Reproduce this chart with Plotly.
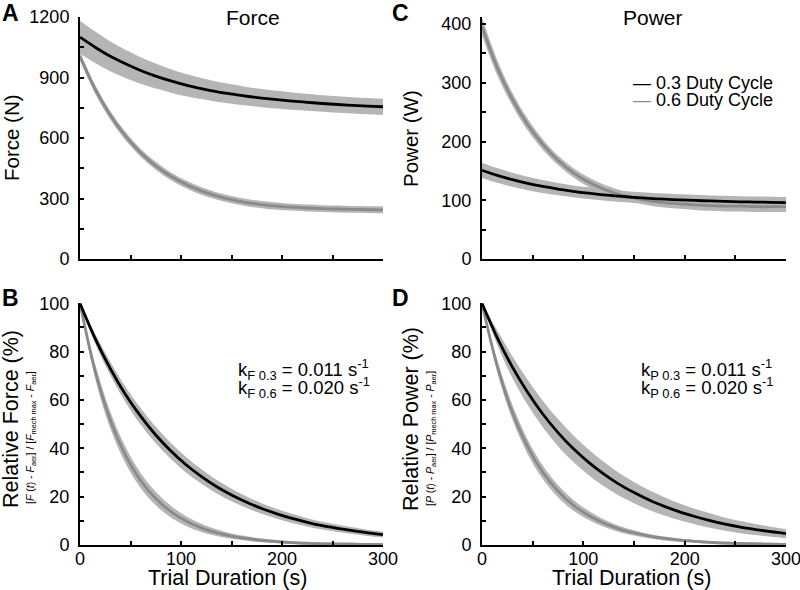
import plotly.graph_objects as go

# ---------------- data ----------------
t = [0, 15, 30, 45, 60, 75, 90, 105, 120, 135, 150, 165, 180, 195, 210, 225, 240, 255, 270, 285, 300]

force_03 = [1100, 1050, 1005, 968, 935, 907, 883, 862, 845, 830, 818, 807, 798, 790, 783, 777, 771, 766, 762, 758, 755]
force_03_sd = [82, 78, 74, 70, 66, 62, 58, 55, 52, 50, 48, 46, 45, 44, 43, 42, 41, 41, 40, 40, 40]
force_06 = [1005, 842, 713, 610, 527, 462, 410, 370, 338, 313, 294, 280, 270, 262, 257, 253, 250, 248, 246, 245, 244]
force_06_sd = [22, 22, 21, 21, 20, 20, 19, 19, 19, 18, 18, 18, 18, 18, 17, 17, 17, 17, 17, 17, 17]

power_03 = [151, 142.3, 135.0, 128.7, 123.5, 119.0, 115.2, 112.0, 109.2, 106.9, 104.9, 103.3, 101.9, 100.7, 99.7, 98.8, 98.1, 97.4, 96.9, 96.5, 96.1]
power_03_sd = [13, 12.5, 12, 11.5, 11, 10.5, 10, 10, 9.5, 9.5, 9.5, 9.5, 9.5, 9.5, 9.5, 9.5, 9.5, 9.5, 9.5, 9.5, 9.5]
power_06 = [396, 326, 272, 229, 195, 168, 147, 131, 119, 110, 104, 99, 96, 94, 92, 91, 90, 90, 89, 89, 89]
power_06_sd = [15, 13, 11, 10, 9, 8, 8, 8, 8, 8, 8, 8, 8.5, 8.5, 8.5, 9, 9, 9, 9, 9, 9]

relF_03 = [100, 85.4, 73.0, 62.3, 53.3, 45.5, 38.9, 33.2, 28.4, 24.2, 20.7, 17.7, 15.1, 12.9, 11.0, 9.4, 8.0, 6.9, 5.9, 5.0, 4.3]
relF_03_sd = [0, 2.0, 2.8, 3.2, 3.4, 3.4, 3.3, 3.2, 3.0, 2.8, 2.6, 2.4, 2.2, 2.0, 1.9, 1.7, 1.6, 1.5, 1.4, 1.3, 1.2]
relF_06 = [100, 71.9, 51.7, 37.2, 26.7, 19.2, 13.8, 9.9, 7.1, 5.1, 3.7, 2.7, 1.9, 1.4, 1.0, 0.7, 0.5, 0.4, 0.3, 0.2, 0.1]
relF_06_sd = [0, 3.0, 3.5, 3.4, 3.1, 2.8, 2.4, 2.0, 1.7, 1.4, 1.1, 0.9, 0.8, 0.7, 0.6, 0.6, 0.6, 0.6, 0.6, 0.6, 0.6]

relP_03 = [100, 85.8, 73.6, 63.2, 54.2, 46.5, 39.9, 34.3, 29.4, 25.2, 21.7, 18.6, 16.0, 13.7, 11.8, 10.1, 8.6, 7.4, 6.4, 5.5, 4.7]
relP_03_sd = [0, 3.0, 4.5, 5.2, 5.5, 5.6, 5.5, 5.3, 5.0, 4.7, 4.4, 4.1, 3.8, 3.5, 3.2, 3.0, 2.7, 2.5, 2.3, 2.1, 1.9]
relP_06 = [100, 74.1, 54.9, 40.7, 30.1, 22.3, 16.5, 12.3, 9.1, 6.7, 5.0, 3.7, 2.7, 2.0, 1.5, 1.1, 0.8, 0.6, 0.5, 0.3, 0.2]
relP_06_sd = [0, 2.5, 3.0, 3.0, 2.8, 2.5, 2.2, 1.9, 1.6, 1.3, 1.1, 0.9, 0.8, 0.7, 0.6, 0.6, 0.6, 0.6, 0.6, 0.6, 0.6]

x_ticks = [0, 100, 200, 300]
series_names = ["0.3 Duty Cycle", "0.6 Duty Cycle"]

# ---------------- styling ----------------
FONT = "Liberation Sans, Arial, sans-serif"
BLACK = "#000000"
GRAY_LINE = "#8a8a8a"
BAND = "#b5b5b5"

W, H = 800, 590
fig = go.Figure()


def add_band(xa, ya, mean, sd):
    lo = [m - s for m, s in zip(mean, sd)]
    hi = [m + s for m, s in zip(mean, sd)]
    fig.add_trace(go.Scatter(x=t, y=lo, mode="lines", line=dict(width=0, shape="spline", color=BAND),
                             xaxis=xa, yaxis=ya, showlegend=False, hoverinfo="skip"))
    fig.add_trace(go.Scatter(x=t, y=hi, mode="lines", line=dict(width=0, shape="spline", color=BAND),
                             fill="tonexty", fillcolor=BAND, xaxis=xa, yaxis=ya, showlegend=False,
                             hoverinfo="skip"))


def add_line(xa, ya, mean, color, name):
    fig.add_trace(go.Scatter(x=t, y=mean, mode="lines", line=dict(width=2.8, shape="spline", color=color),
                             xaxis=xa, yaxis=ya, name=name, showlegend=False))


panels = [
    ("x", "y", force_03, force_03_sd, force_06, force_06_sd),
    ("x2", "y2", power_03, power_03_sd, power_06, power_06_sd),
    ("x3", "y3", relF_03, relF_03_sd, relF_06, relF_06_sd),
    ("x4", "y4", relP_03, relP_03_sd, relP_06, relP_06_sd),
]
for xa, ya, m3, s3, m6, s6 in panels:
    add_band(xa, ya, m6, s6)
    add_band(xa, ya, m3, s3)
    add_line(xa, ya, m6, GRAY_LINE, series_names[1])
    add_line(xa, ya, m3, BLACK, series_names[0])


def px_x(p):
    return p / W


def px_y(p):
    return 1 - p / H


left_dom = [px_x(80), px_x(383)]
right_dom = [px_x(482), px_x(786)]
top_dom = [px_y(259), px_y(17)]
bot_dom = [px_y(545), px_y(303.3)]

axis_common = dict(showline=True, linecolor=BLACK, linewidth=2, ticks="inside", ticklen=4, tickwidth=2,
                   tickcolor=BLACK, showgrid=False, zeroline=False, automargin=False,
                   ticklabeloverflow="allow",
                   tickfont=dict(family=FONT, size=18, color=BLACK))


def xaxis(domain, anchor, labels):
    return dict(axis_common, domain=domain, anchor=anchor, range=[0, 300], tickvals=x_ticks,
                showticklabels=labels, ticklabelstandoff=-4,
                minor=dict(ticks="inside", ticklen=4, tickwidth=2, tickcolor=BLACK, dtick=50, tick0=0))


def yaxis(domain, anchor, rng, dtick, minor):
    return dict(axis_common, domain=domain, anchor=anchor, range=rng, dtick=dtick, tick0=0,
                ticklabelstandoff=5,
                minor=dict(ticks="inside", ticklen=4, tickwidth=2, tickcolor=BLACK, dtick=minor, tick0=0))


fig.update_layout(
    template="none",
    width=W, height=H,
    margin=dict(l=0, r=0, t=0, b=0, autoexpand=False),
    paper_bgcolor="white", plot_bgcolor="white",
    font=dict(family=FONT, color=BLACK),
    showlegend=False,
    xaxis=xaxis(left_dom, "y", False),
    yaxis=yaxis(top_dom, "x", [0, 1200], 300, 150),
    xaxis2=xaxis(right_dom, "y2", False),
    yaxis2=yaxis(top_dom, "x2", [0, 412], 100, 50),
    xaxis3=xaxis(left_dom, "y3", True),
    yaxis3=yaxis(bot_dom, "x3", [0, 100], 20, 10),
    xaxis4=xaxis(right_dom, "y4", True),
    yaxis4=yaxis(bot_dom, "x4", [0, 100], 20, 10),
)

ann = []


def text(x, y, s, size, angle=0, xanchor="center", yanchor="middle", bold=False):
    ann.append(dict(x=px_x(x), y=px_y(y), xref="paper", yref="paper", text=("<b>%s</b>" % s) if bold else s,
                    showarrow=False, textangle=angle, xanchor=xanchor, yanchor=yanchor,
                    font=dict(family=FONT, size=size, color=BLACK)))


# panel letters
text(10, 13, "A", 23, bold=True)
text(10, 298, "B", 23, bold=True)
text(400, 13, "C", 23, bold=True)
text(400, 298, "D", 23, bold=True)

# titles
text(253, 18, "Force", 21)
text(653, 18, "Power", 21)

# y-axis titles
text(11, 138, "Force (N)", 20.5, angle=-90)
text(410, 138, "Power (W)", 20.5, angle=-90)
text(11, 419, "Relative Force (%)", 21.5, angle=-90)
text(411, 419, "Relative Power (%)", 21.5, angle=-90)
text(31, 438, "[<i>F</i> (<i>t</i>) - <i>F</i><sub>aer</sub>] / [<i>F</i><sub>mech max</sub> - <i>F</i><sub>aer</sub>]", 10.5, angle=-90)
text(431, 438, "[<i>P</i> (<i>t</i>) - <i>P</i><sub>aer</sub>] / [<i>P</i><sub>mech max</sub> - <i>P</i><sub>aer</sub>]", 10.5, angle=-90)

# x-axis titles
text(228, 578, "Trial Duration (s)", 21.5)
text(631, 578, "Trial Duration (s)", 21.5)

# rate constants
text(236, 369, "k<sub>F 0.3</sub> = 0.011 s<sup>-1</sup>", 18.5, xanchor="left")
text(236, 387, "k<sub>F 0.6</sub> = 0.020 s<sup>-1</sup>", 18.5, xanchor="left")
text(639, 369, "k<sub>P 0.3</sub> = 0.011 s<sup>-1</sup>", 18.5, xanchor="left")
text(639, 387, "k<sub>P 0.6</sub> = 0.020 s<sup>-1</sup>", 18.5, xanchor="left")

# legend (panel C)
ann.append(dict(x=px_x(631), y=px_y(83), xref="paper", yref="paper", showarrow=False, xanchor="left",
                yanchor="middle", text="<span style='color:%s'>—</span> %s" % (BLACK, series_names[0]),
                font=dict(family=FONT, size=18, color=BLACK)))
ann.append(dict(x=px_x(631), y=px_y(100), xref="paper", yref="paper", showarrow=False, xanchor="left",
                yanchor="middle", text="<span style='color:%s'>—</span> %s" % (GRAY_LINE, series_names[1]),
                font=dict(family=FONT, size=18, color=BLACK)))

fig.update_layout(annotations=ann)
fig.write_html("out.html", config={"displayModeBar": False},
               post_script="document.body.style.margin='0px';document.body.style.overflow='hidden';")
